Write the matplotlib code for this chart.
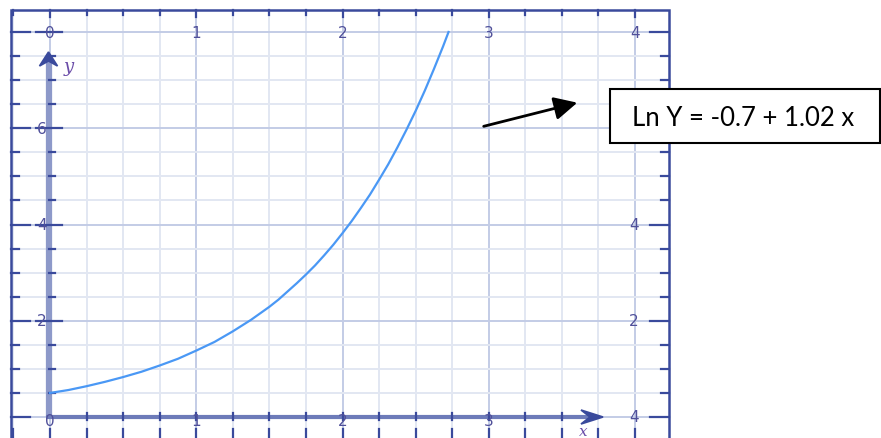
import numpy as np
import matplotlib
matplotlib.use("Agg")
import matplotlib.pyplot as plt
from matplotlib.patches import Rectangle, Polygon

# ---- data ----
curve_x = [0.0, 0.125, 0.25, 0.375, 0.5, 0.625, 0.75, 0.875, 1.0, 1.125, 1.25,
           1.375, 1.5, 1.5625, 1.625, 1.6875, 1.75, 1.8125, 1.875, 1.9375, 2.0,
           2.0625, 2.125, 2.1875, 2.25, 2.3125, 2.375, 2.4375, 2.5, 2.5625,
           2.625, 2.6875, 2.725]
curve_y = [0.50, 0.56, 0.64, 0.73, 0.83, 0.94, 1.07, 1.21, 1.38, 1.56, 1.78,
           2.02, 2.29, 2.44, 2.61, 2.78, 2.96, 3.15, 3.36, 3.58, 3.82,
           4.07, 4.34, 4.62, 4.93, 5.25, 5.60, 5.97, 6.36, 6.78,
           7.23, 7.70, 8.00]
top_x_labels = ["0", "1", "2", "3", "4"]
bottom_x_labels = ["0", "1", "2", "3"]
left_y_labels = ["6", "4", "2"]
left_y_vals = [6, 4, 2]
right_y_labels = ["4", "2", "4"]
right_y_vals = [4, 2, 0]
equation = "Ln Y = -0.7 + 1.02 x"

# ---- pixel <-> data layout helpers ----
PX0, PXU = 50.0, 146.25    # x=0 pixel, px per unit
PY0, PYU = 418.0, 48.125   # y=0 pixel, px per unit
W, H = 881, 439
def X(px): return (px - PX0) / PXU
def Y(py): return (PY0 - py) / PYU
def dx(p): return p / PXU
def dy(p): return p / PYU
def P(pts): return [(X(a), Y(b)) for a, b in pts]

fig = plt.figure(figsize=(W / 100, H / 100), dpi=100)
ax = fig.add_axes([0, 0, 1, 1])
ax.set_xlim(X(0), X(W))
ax.set_ylim(Y(H), Y(0))
ax.axis("off")

navy = "#3a4a9c"
lab_col = "#50509a"
grid_minor = "#e2e7f2"
grid_major = "#c3cce6"

fl, fr, ft = X(11), X(669), Y(11)
fb = Y(H + 5)

# grid
for i in range(-1, 17):
    gx = i * 0.25
    c = grid_major if i % 4 == 0 else grid_minor
    ax.plot([gx, gx], [fb, ft], color=c, lw=1.4, zorder=1)
for j in range(0, 17):
    gy = j * 0.5
    c = grid_major if j % 4 == 0 else grid_minor
    ax.plot([fl, fr], [gy, gy], color=c, lw=1.4, zorder=1)

# frame
ax.plot([fl, fl, fr, fr], [fb, ft, ft, fb], color=navy, lw=1.8, zorder=3,
        solid_joinstyle="miter")

# frame ticks
for i in range(-1, 17):
    gx = i * 0.25
    L = 7 if i % 4 == 0 else 5
    ax.plot([gx, gx], [ft, ft - dy(L)], color=navy, lw=1.6, zorder=3)
    ax.plot([gx, gx], [Y(430), Y(H + 2)], color=navy, lw=1.6, zorder=3)
for j in range(0, 17):
    gy = j * 0.5
    long = (j % 4 == 0)
    ax.plot([fl, fl + dx(19 if long else 8)], [gy, gy], color=navy, lw=1.6, zorder=3)
    ax.plot([fr, fr - dx(19 if long else 8)], [gy, gy], color=navy, lw=1.6, zorder=3)

# y axis (thick band) with arrow head
ax.plot([X(48.5), X(48.5)], [0, Y(62)], color="#8d99c9", lw=4.5, zorder=4,
        solid_capstyle="butt")
ax.add_patch(Polygon(P([(48.5, 53), (39.5, 67), (48.5, 62), (57.5, 67)]),
                     closed=True, facecolor=navy, edgecolor=navy, lw=1.2,
                     zorder=5))
# x axis with arrow head
ax.plot([X(46), X(592)], [0, 0], color="#6d7bb9", lw=3, zorder=4,
        solid_capstyle="butt")
ax.add_patch(Polygon(P([(603, 418), (581, 411), (590, 418), (581, 425)]),
                     closed=True, facecolor=navy, edgecolor=navy, lw=1.2,
                     zorder=5))

# axis ticks
for i in range(1, 16):
    gx = i * 0.25
    if gx * PXU + PX0 < 585:
        ax.plot([gx, gx], [Y(421), Y(414)], color=navy, lw=1.6, zorder=5)
for j in range(1, 17):
    gy = j * 0.5
    if j % 4 == 0:
        ax.plot([X(36), X(62)], [gy, gy], color=navy, lw=1.6, zorder=5)
    else:
        ax.plot([X(49), X(55)], [gy, gy], color=navy, lw=1.6, zorder=5)

# curve
ax.plot(curve_x, curve_y, color="#4a98f5", lw=1.6, zorder=6,
        solid_joinstyle="round")

# labels
tk = dict(color=lab_col, fontsize=11, ha="center", va="center", zorder=7,
          family="DejaVu Sans")
for k, s in enumerate(top_x_labels):
    ax.text(k, Y(34), s, **tk)
for k, s in enumerate(bottom_x_labels):
    ax.text(k, Y(422), s, **tk)
for v, s in zip(left_y_vals, left_y_labels):
    ax.text(X(42), v, s, **tk)
for v, s in zip(right_y_vals, right_y_labels):
    ax.text(X(634), v, s, **tk)
ax.text(X(69), Y(67), "y", color="#6a4ca8", fontsize=13, style="italic",
        family="DejaVu Serif", ha="center", va="center", zorder=7)
ax.text(X(583), Y(439), "x", color="#6a4ca8", fontsize=11, style="italic",
        family="DejaVu Serif", ha="center", va="bottom", zorder=7)

# annotation box and arrow
ax.add_patch(Rectangle((X(610), Y(144)), dx(880 - 610), dy(144 - 90),
                       facecolor="white", edgecolor="black", lw=1.5, zorder=8))
ax.text(X(632), Y(119), equation, fontsize=18.5, family="Lato", color="black",
        ha="left", va="center", zorder=9)
ax.annotate("", xy=(X(580), Y(103)), xytext=(X(481), Y(128)),
            arrowprops=dict(arrowstyle="-|>,head_length=0.7,head_width=0.35",
                            mutation_scale=20, color="black", lw=2),
            zorder=9)

fig.savefig("out.png", dpi=100)
